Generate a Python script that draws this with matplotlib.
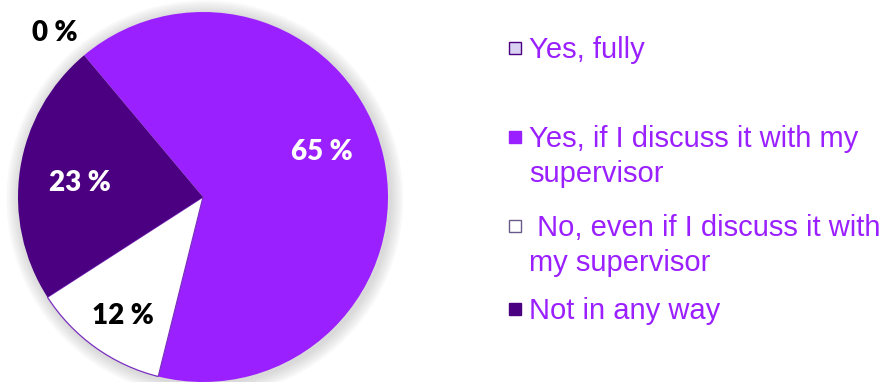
import matplotlib.pyplot as plt
from matplotlib.patches import Rectangle, Circle

labels = ['Yes, fully',
          'Yes, if I discuss it with my\nsupervisor',
          ' No, even if I discuss it with\nmy supervisor',
          'Not in any way']
values = [0, 65, 12, 23]
colors = ['#d9d2f2', '#9b20ff', '#ffffff', '#4b0082']
pct_colors = ['black', 'white', 'black', 'white']
marker_edges = ['#4b0082', '#9b20ff', '#6a5a8a', '#4b0082']

# where the percentage labels sit (pixels from top-left of the figure)
pct_pos = [(55, 33), (322, 152), (123, 316), (80, 183)]
# legend rows: centre of the first text line
legend_y = [48, 137, 226, 309]

W, H = 893, 382
cx, cy, R = 203, 197, 185

fig = plt.figure(figsize=(W / 100, H / 100), dpi=100)
ax = fig.add_axes([0, 0, 1, 1])

def px(x, y):
    return (x - cx) / R, (cy - y) / R

# soft shadow around the pie
for i in range(6):
    ax.add_patch(Circle((0.01, -0.01), 1 + 0.012 * (i + 1), color='gray',
                        alpha=0.05, lw=0, zorder=0))

wedges, texts, autotexts = ax.pie(values, colors=colors, startangle=130,
                                  counterclock=False, radius=1,
                                  autopct=lambda p: f'{p:.0f} %',
                                  wedgeprops=dict(linewidth=0))
wedges[2].set_edgecolor('#7b2fc0')
wedges[2].set_linewidth(0.9)

for t, c, (x, y) in zip(autotexts, pct_colors, pct_pos):
    t.set_position(px(x, y))
    t.set_color(c)
    t.set_fontsize(20)
    t.set_fontweight('heavy')
    t.set_fontfamily('Lato')
    t.set_ha('center')
    t.set_va('center')

for lab, col, ec, y in zip(labels, colors, marker_edges, legend_y):
    x0, y0 = px(509, y + 6)
    ax.add_patch(Rectangle((x0, y0), 12 / R, 12 / R, facecolor=col,
                           edgecolor=ec, lw=1.0, zorder=3))
    tx, ty = px(529, y - 12)
    ax.text(tx, ty, lab, fontsize=21, color='#9b20ff', family='Liberation Sans',
            ha='left', va='top', linespacing=1.3)

ax.set_xlim(-cx / R, (W - cx) / R)
ax.set_ylim((cy - H) / R, cy / R)
ax.set_aspect('equal')
ax.axis('off')

fig.savefig('out.png', dpi=100)
